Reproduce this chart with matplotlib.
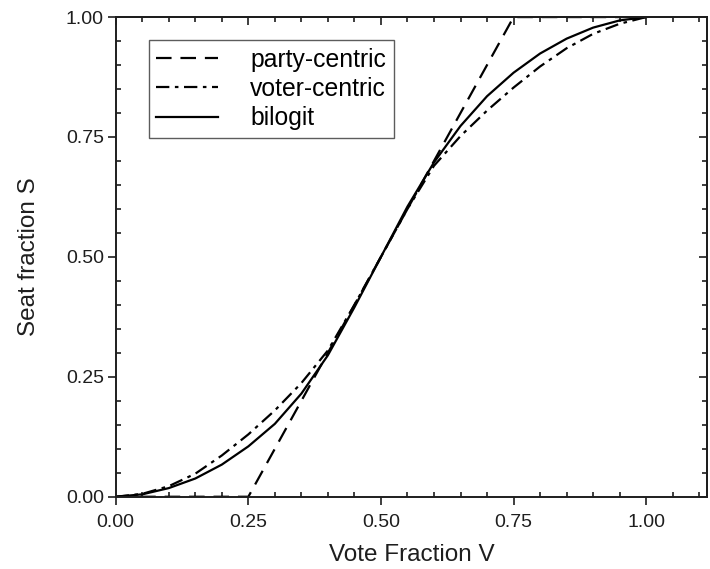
import matplotlib
matplotlib.use('Agg')
import matplotlib.pyplot as plt
from matplotlib.ticker import MultipleLocator

plt.rcParams['font.family'] = ['Liberation Sans', 'DejaVu Sans']

# party-centric: linear seat-vote rule, clipped at 0 and 1
party_v = [0.0, 0.25, 0.75, 1.0]
party_s = [0.0, 0.0, 1.0, 1.0]

# voter-centric curve
voter_v = [0.0, 0.05, 0.10, 0.15, 0.20, 0.25, 0.30, 0.35, 0.40, 0.45, 0.50,
           0.55, 0.60, 0.65, 0.70, 0.75, 0.80, 0.85, 0.90, 0.95, 1.0]
voter_s = [0.0, 0.006, 0.022, 0.048, 0.086, 0.13, 0.18, 0.237, 0.305, 0.40, 0.50,
           0.60, 0.69, 0.752, 0.805, 0.853, 0.897, 0.935, 0.965, 0.986, 1.0]

# bilogit curve
bilogit_v = [0.0, 0.05, 0.10, 0.15, 0.20, 0.25, 0.30, 0.35, 0.40, 0.45, 0.50,
             0.55, 0.60, 0.65, 0.70, 0.75, 0.80, 0.85, 0.90, 0.95, 1.0]
bilogit_s = [0.0, 0.005, 0.018, 0.038, 0.067, 0.105, 0.152, 0.215, 0.295, 0.395, 0.50,
             0.605, 0.697, 0.773, 0.835, 0.884, 0.924, 0.955, 0.978, 0.993, 1.0]

x_ticks = [0.0, 0.25, 0.5, 0.75, 1.0]
y_ticks = [0.0, 0.25, 0.5, 0.75, 1.0]

INK = '#1e1e1e'


def main():
    fig = plt.figure(figsize=(7.1, 5.69), dpi=100)
    ax = fig.add_axes([0.163, 0.127, 0.833, 0.843])

    ax.plot(party_v, party_s, color='black', lw=1.6, dashes=(7, 4),
            label='party-centric')
    ax.plot(voter_v, voter_s, color='black', lw=1.6, dashes=(6, 2.5, 1.6, 2.5),
            label='voter-centric')
    ax.plot(bilogit_v, bilogit_s, color='black', lw=1.6, label='bilogit')

    ax.set_xlim(0, 1.115)
    ax.set_ylim(0, 1.0)
    ax.set_xticks(x_ticks)
    ax.set_yticks(y_ticks)
    ax.set_xticklabels([f'{t:.2f}' for t in x_ticks])
    ax.set_yticklabels([f'{t:.2f}' for t in y_ticks])
    ax.xaxis.set_minor_locator(MultipleLocator(0.05))
    ax.yaxis.set_minor_locator(MultipleLocator(0.05))

    # bottom/left: major ticks outward, minor inward
    ax.tick_params(which='major', direction='out', length=6, width=1.2,
                   labelsize=14, color=INK, labelcolor=INK)
    ax.tick_params(axis='x', which='major', pad=6.5)
    ax.tick_params(axis='y', which='major', pad=2.5)
    ax.tick_params(which='minor', direction='in', length=3.6, width=1.2,
                   color=INK)
    for sp in ax.spines.values():
        sp.set_linewidth(1.4)
        sp.set_color(INK)

    # top/right: all ticks inward, no labels
    top = ax.secondary_xaxis('top')
    top.set_xticks(x_ticks)
    top.xaxis.set_minor_locator(MultipleLocator(0.05))
    top.tick_params(which='major', direction='in', length=6, width=1.2,
                    labeltop=False, color=INK)
    top.tick_params(which='minor', direction='in', length=3.6, width=1.2,
                    color=INK)
    right = ax.secondary_yaxis('right')
    right.set_yticks(y_ticks)
    right.yaxis.set_minor_locator(MultipleLocator(0.05))
    right.tick_params(which='major', direction='in', length=6, width=1.2,
                      labelright=False, color=INK)
    right.tick_params(which='minor', direction='in', length=3.6, width=1.2,
                      color=INK)
    for sec in (top, right):
        for sp in sec.spines.values():
            sp.set_linewidth(1.4)
            sp.set_color(INK)

    ax.set_xlabel('Vote Fraction V', fontsize=17.5, color=INK, labelpad=9.5)
    ax.set_ylabel('Seat fraction S', fontsize=17.5, color=INK, labelpad=19)

    leg = ax.legend(loc='upper left', bbox_to_anchor=(0.056, 0.952),
                    borderaxespad=0, fontsize=17.8, frameon=True,
                    fancybox=False, edgecolor='#333333', handlelength=2.5,
                    handletextpad=1.3, borderpad=0.3, labelspacing=0.22)
    leg.get_frame().set_linewidth(1.0)

    fig.savefig('out.png', dpi=100)
    plt.close(fig)


if __name__ == '__main__':
    main()
